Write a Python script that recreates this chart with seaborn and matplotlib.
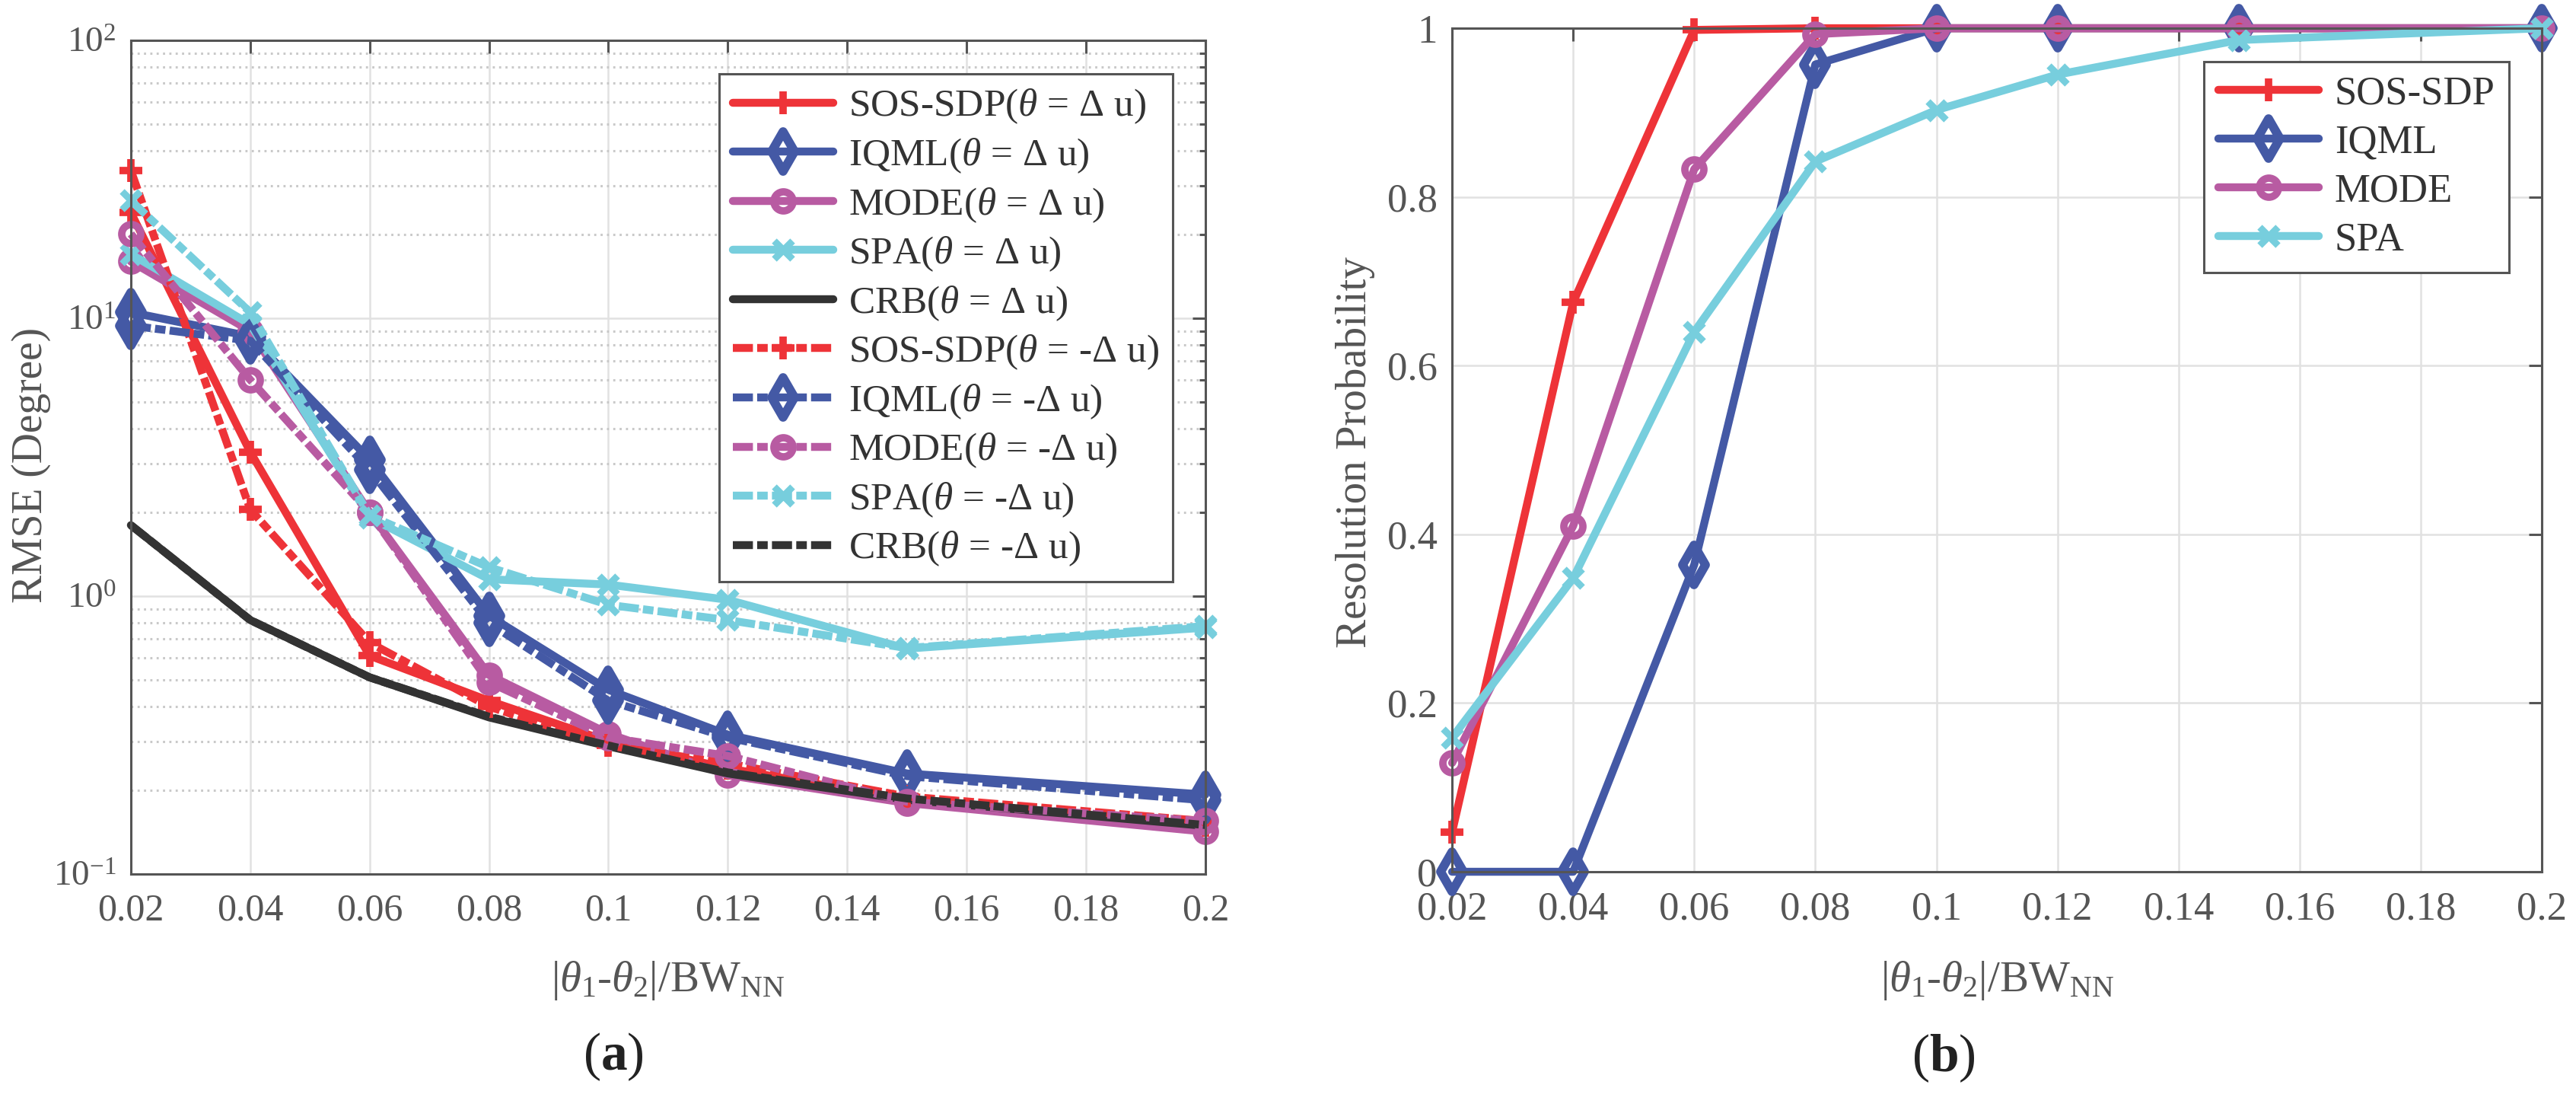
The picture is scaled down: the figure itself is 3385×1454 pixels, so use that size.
import numpy as np
import matplotlib
matplotlib.use("Agg")
import matplotlib.pyplot as plt
import matplotlib.ticker as mticker
from matplotlib.markers import MarkerStyle
import seaborn as sns

# ---- data ----
sep = [0.02, 0.04, 0.06, 0.08, 0.10, 0.12, 0.15, 0.20]

# (a) RMSE, theta = +delta u (solid) and theta = -delta u (dash-dot)
sos_pos = [24.0, 3.3, 0.61, 0.42, 0.30, 0.24, 0.185, 0.150]
iqml_pos = [10.5, 8.6, 3.1, 0.85, 0.46, 0.317, 0.230, 0.193]
mode_pos = [16.0, 9.0, 2.0, 0.52, 0.32, 0.227, 0.180, 0.142]
spa_pos = [17.0, 9.5, 1.92, 1.15, 1.10, 0.97, 0.647, 0.77]
crb_pos = [1.80, 0.82, 0.51, 0.366, 0.288, 0.230, 0.185, 0.149]

sos_neg = [34.0, 2.05, 0.68, 0.40, 0.29, 0.25, 0.190, 0.155]
iqml_neg = [9.4, 8.3, 2.85, 0.80, 0.42, 0.31, 0.225, 0.184]
mode_neg = [20.1, 6.0, 2.0, 0.49, 0.31, 0.266, 0.182, 0.155]
spa_neg = [26.5, 10.5, 1.95, 1.27, 0.93, 0.82, 0.650, 0.78]
crb_neg = [1.80, 0.82, 0.51, 0.368, 0.290, 0.232, 0.187, 0.150]

# (b) resolution probability
sos_res = [0.047, 0.675, 0.998, 1.0, 1.0, 1.0, 1.0, 1.0]
iqml_res = [0.0, 0.0, 0.364, 0.957, 1.0, 1.0, 1.0, 1.0]
mode_res = [0.129, 0.41, 0.833, 0.993, 1.0, 1.0, 1.0, 1.0]
spa_res = [0.159, 0.348, 0.64, 0.842, 0.903, 0.945, 0.986, 1.0]

methods = ["SOS-SDP", "IQML", "MODE", "SPA", "CRB"]
colors = {"SOS-SDP": "#EE3338", "IQML": "#4459A5", "MODE": "#B85BA2",
          "SPA": "#77CEDD", "CRB": "#333333"}
# marker, size, edge width
markers = {"SOS-SDP": ("+", 22, 7.0),
           "IQML": (MarkerStyle("d", joinstyle="round"), 26, 8.5),
           "MODE": ("o", 18, 7.0), "SPA": ("x", 17, 6.5), "CRB": None}

sns.set_style("white")
plt.rcParams["font.family"] = ["Liberation Serif", "DejaVu Serif"]
plt.rcParams["mathtext.fontset"] = "custom"
plt.rcParams["mathtext.rm"] = "Liberation Serif"
plt.rcParams["mathtext.it"] = "Liberation Serif:italic"
plt.rcParams["mathtext.bf"] = "Liberation Serif:bold"
plt.rcParams["lines.scale_dashes"] = False

AX_COL = "#555555"
TXT_COL = "#555555"
LW = 7.5
DASH = (0, (19, 4, 10, 4))

fig = plt.figure(figsize=(33.85, 14.54), dpi=100)
ax1 = fig.add_axes([0.0508, 0.2105, 0.4171, 0.7531])
ax2 = fig.add_axes([0.5637, 0.2125, 0.4230, 0.7620])


def draw(ax, y, name, label, dashed=False):
    kw = {}
    if markers[name]:
        mk, ms, mew = markers[name]
        kw = dict(marker=mk, markersize=ms, markeredgewidth=mew,
                  markerfacecolor="none")
    sns.lineplot(x=sep, y=y, ax=ax, color=colors[name], linewidth=LW,
                 label=label, clip_on=False, **kw)
    line = ax.get_lines()[-1]
    line.set_markeredgecolor(colors[name])
    if dashed:
        line.set_linestyle(DASH)


# ---- panel (a) ----
pos = [sos_pos, iqml_pos, mode_pos, spa_pos, crb_pos]
neg = [sos_neg, iqml_neg, mode_neg, spa_neg, crb_neg]
for name, y in zip(methods, pos):
    draw(ax1, y, name, name + r"($\theta$ = $\Delta$ u)")
for name, y in zip(methods, neg):
    draw(ax1, y, name, name + r"($\theta$ = -$\Delta$ u)", dashed=True)

ax1.set_yscale("log")
ax1.set_ylim(0.1, 100)
ax1.yaxis.set_major_locator(mticker.FixedLocator([0.1, 1, 10, 100]))
ax1.yaxis.set_major_formatter(mticker.FixedFormatter(
    [r"$10^{-1}$", r"$10^{0}$", r"$10^{1}$", r"$10^{2}$"]))
ax1.yaxis.set_minor_locator(mticker.LogLocator(base=10, subs=np.arange(2, 10)))
ax1.yaxis.set_minor_formatter(mticker.NullFormatter())
ax1.grid(which="major", color="#e1e1e1", linewidth=1.8)
ax1.grid(which="minor", axis="y", color="#c9c9c9", linewidth=2.2,
         linestyle=(0, (2, 4)))
ax1.set_ylabel("RMSE (Degree)", fontsize=40, color=TXT_COL)
ax1.yaxis.set_label_coords(-0.0744, 0.49)

# ---- panel (b) ----
for name, y in zip(methods[:4], [sos_res, iqml_res, mode_res, spa_res]):
    draw(ax2, y, name, name)
ax2.set_ylim(0, 1)
ax2.set_yticks([0, 0.2, 0.4, 0.6, 0.8, 1.0])
ax2.yaxis.set_major_formatter(mticker.FormatStrFormatter("%g"))
ax2.grid(which="major", color="#e1e1e1", linewidth=1.8)
ax2.set_ylabel("Resolution Probability", fontsize=41, color=TXT_COL)
ax2.yaxis.set_label_coords(-0.0705, 0.497)

xticks = [0.02, 0.04, 0.06, 0.08, 0.10, 0.12, 0.14, 0.16, 0.18, 0.20]
for ax, lsz, ly in ((ax1, 36, -0.1023), (ax2, 38, -0.1035)):
    ax.set_xlim(0.02, 0.2)
    ax.set_xticks(xticks)
    ax.xaxis.set_major_formatter(mticker.FormatStrFormatter("%g"))
    ax.set_axisbelow(True)
    ax.tick_params(which="both", direction="in", top=True, right=True,
                   color=AX_COL, labelcolor=TXT_COL, labelsize=lsz, width=2.2)
    ax.tick_params(which="major", length=12, pad=14)
    ax.tick_params(which="minor", length=6)
    ax.tick_params(axis="x", pad=18)
    for s in ax.spines.values():
        s.set_color(AX_COL)
        s.set_linewidth(2.2)
    ax.set_xlabel(r"|$\theta_1$-$\theta_2$|/BW$_{\mathrm{NN}}$", fontsize=41,
                  color=TXT_COL)
    ax.xaxis.set_label_coords(0.5, ly)
ax1.tick_params(axis="y", labelsize=34)

leg1 = ax1.legend(loc="upper right", bbox_to_anchor=(0.970, 0.960),
                  borderaxespad=0, fontsize=37, frameon=True, fancybox=False,
                  handlelength=2.57, labelspacing=0.27, borderpad=0.35,
                  handletextpad=0.4)
leg2 = ax2.legend(loc="upper right", bbox_to_anchor=(0.970, 0.960),
                  borderaxespad=0, fontsize=38, frameon=True, fancybox=False,
                  handlelength=2.5, labelspacing=0.3, borderpad=0.35,
                  handletextpad=0.4)
for leg in (leg1, leg2):
    fr = leg.get_frame()
    fr.set_edgecolor(AX_COL)
    fr.set_linewidth(2.2)
    fr.set_alpha(1)
    for t in leg.get_texts():
        t.set_color("#333333")

fig.text(806 / 3385, 1 - 1388 / 1454, r"($\mathbf{a}$)", fontsize=50,
         ha="center", va="center", color="#222222")
fig.text(2554 / 3385, 1 - 1390 / 1454, r"($\mathbf{b}$)", fontsize=50,
         ha="center", va="center", color="#222222")

fig.savefig("out.png", dpi=100, facecolor="white")
